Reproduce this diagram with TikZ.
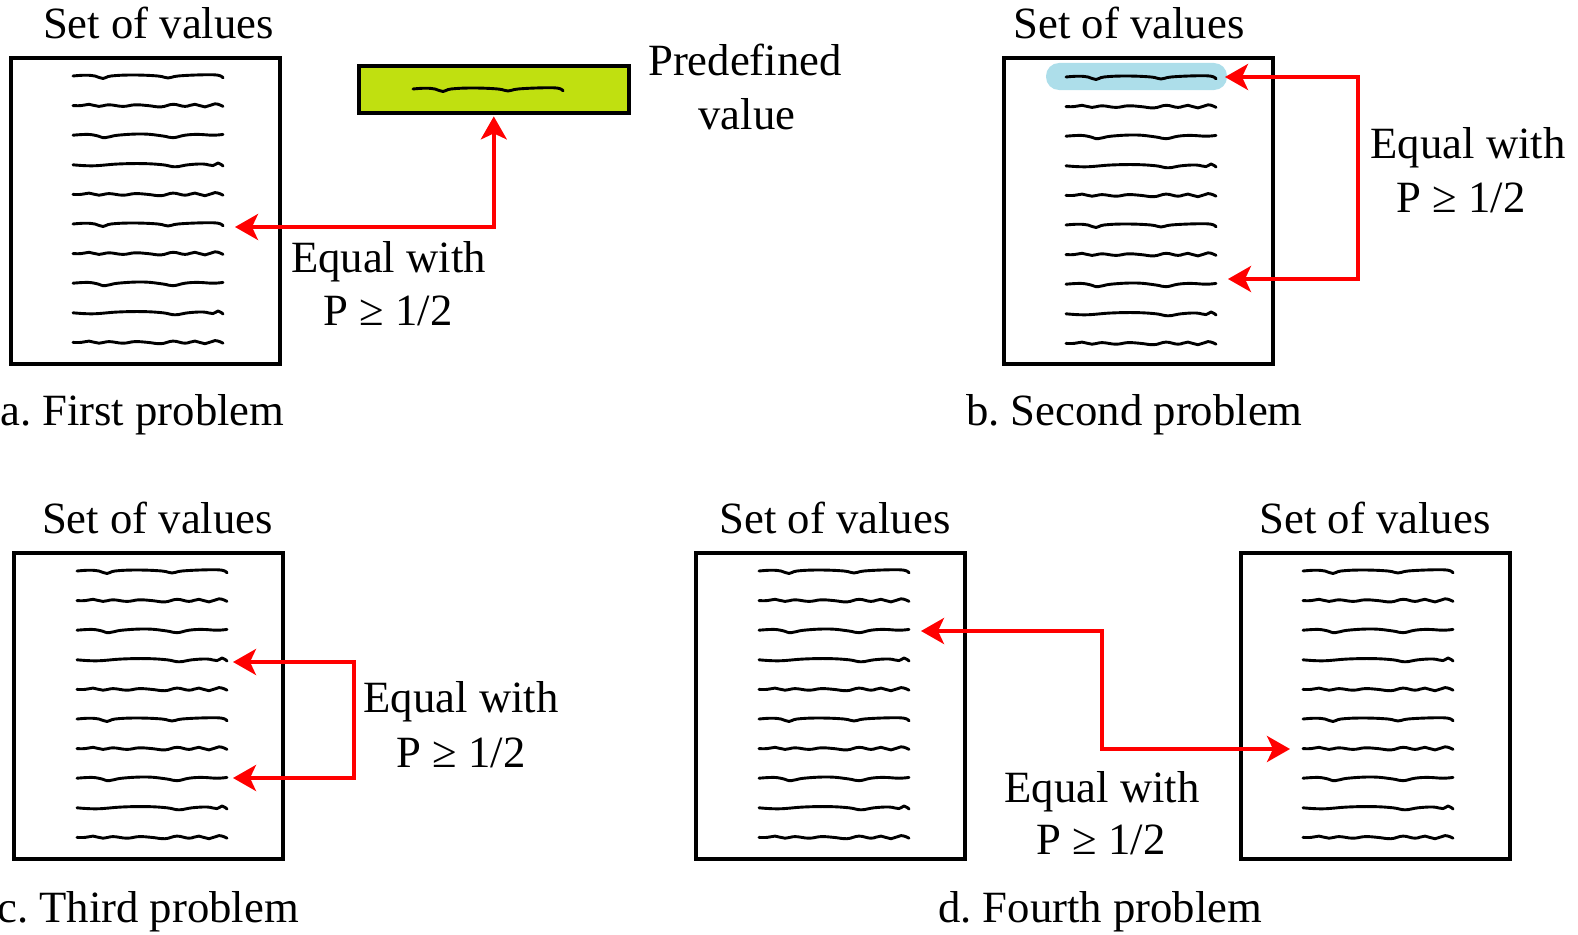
\documentclass[tikz,border=0pt]{standalone}
\usepackage{fontspec}
\setmainfont{Liberation Serif}
\usetikzlibrary{arrows.meta}

\definecolor{limefill}{RGB}{192,224,16}
\definecolor{hilite}{RGB}{173,222,234}
\definecolor{linkred}{RGB}{255,0,0}

\tikzset{
  setbox/.style={draw, line width=3.6pt, minimum width=269pt, minimum height=306pt,
    inner sep=0pt, anchor=north west},
  ink/.style={line width=2.9pt, line cap=round, line join=round},
  link/.style={draw=linkred, line width=3.6pt,
    {Stealth[length=23pt,width=26pt,inset=6pt]}-{Stealth[length=23pt,width=26pt,inset=6pt]}},
  lbl/.style={font=\fontsize{44.7}{53}\selectfont\frenchspacing, inner sep=0pt, anchor=base},
  captext/.style={font=\fontsize{44.7}{53}\selectfont\frenchspacing, inner sep=0pt, anchor=base west},
  squigA/.pic={\draw[ink] plot[smooth,tension=0.7] coordinates
    {(0,0) (12,-0.8) (22,0) (30,2.5) (38,0) (60,-1) (85,0) (95,2) (105,0) (130,-1.2) (145,-0.8) (150,1.8)};},
  squigB/.pic={\draw[ink] plot[smooth,tension=0.7] coordinates
    {(0,0) (8,0) (16,-1.3) (26,0.8) (36,-0.8) (50,0.8) (62,-0.8) (75,0) (88,1.3) (100,-1.3) (112,0.8) (122,-1.3) (132,1.3) (142,-1.8) (150,0.8)};},
  squigC/.pic={\draw[ink] plot[smooth,tension=0.7] coordinates
    {(0,0) (15,-0.8) (25,0.8) (32,2.5) (45,0) (70,-1.2) (90,0.8) (100,2.5) (112,0) (125,-0.8) (140,0) (150,-0.8)};},
  squigD/.pic={\draw[ink] plot[smooth,tension=0.7] coordinates
    {(0,0) (20,1) (45,-0.8) (70,-1.2) (90,0) (102,2) (115,0) (130,-0.8) (140,0.8) (145,-1.8) (150,1.2)};},
}

% ten handwritten value lines, starting at (x, y of the first line)
\newcommand\valuelines[2]{%
  \pic at (#1,#2) {squigA};
  \pic at (#1,#2+29.6) {squigB};
  \pic at (#1,#2+59.2) {squigC};
  \pic at (#1,#2+88.8) {squigD};
  \pic at (#1,#2+118.4) {squigB};
  \pic at (#1,#2+148) {squigA};
  \pic at (#1,#2+177.6) {squigB};
  \pic at (#1,#2+207.2) {squigC};
  \pic at (#1,#2+236.8) {squigD};
  \pic at (#1,#2+266.4) {squigB};
}

\begin{document}
\begin{tikzpicture}[x=1pt, y=-1pt]
\useasboundingbox (0,0) rectangle (1578,934);

% ---------- a. First problem ----------
\node[lbl] (ta) at (158.5,38) {Set of values};
\node[setbox] (A) at (9,56) {};
\valuelines{73}{76}
\node[draw, line width=3.6pt, fill=limefill, minimum width=270pt, minimum height=47pt,
  inner sep=0pt, anchor=north west] (G) at (357,64) {};
\pic at (413,89) {squigA};
\node[lbl] (pa1) at (745,75.5) {Predefined};
\node[lbl] (pa2) at (747,129) {value};
\coordinate (a6) at (235,227);
\draw[link] ([yshift=-1.8pt]G.south) |- (a6);
\node[lbl] (ea1) at (388.5,272) {Equal with};
\node[lbl] (ea2) at (388,325) {P ≥ 1/2};
\node[captext] (ca) at (0,425) {a. First problem};

% ---------- b. Second problem ----------
\node[lbl] (tb) at (1129,38) {Set of values};
\node[setbox] (B) at (1002,56) {};
\node[fill=hilite, rounded corners=13pt, minimum width=181pt, minimum height=27pt,
  inner sep=0pt] (hl) at (1136.5,76.5) {};
\valuelines{1066}{77}
\coordinate (b1) at (1225,77);
\coordinate (b8) at (1228,279);
\draw[link] (b1) -- ++(133,0) |- (b8);
\node[lbl] (eb1) at (1468,158) {Equal with};
\node[lbl] (eb2) at (1461,212) {P ≥ 1/2};
\node[captext] (cb) at (966,425) {b. Second problem};

% ---------- c. Third problem ----------
\node[lbl] (tc) at (157.5,533) {Set of values};
\node[setbox] (C) at (12,551) {};
\valuelines{77}{571}
\coordinate (c4) at (233,662);
\coordinate (c8) at (233,778);
\draw[link] (c4) -- ++(121,0) |- (c8);
\node[lbl] (ec1) at (461,712.5) {Equal with};
\node[lbl] (ec2) at (461,767) {P ≥ 1/2};
\node[captext] (cc) at (-3,922) {c. Third problem};

% ---------- d. Fourth problem ----------
\node[lbl] (td1) at (835,533) {Set of values};
\node[setbox] (D1) at (694,551) {};
\valuelines{759}{571}
\node[lbl] (td2) at (1375,533) {Set of values};
\node[setbox] (D2) at (1239,551) {};
\valuelines{1303}{571}
\coordinate (d3) at (921,631);
\coordinate (d7) at (1290,749);
\draw[link] (d3) -- ++(181,0) |- (d7);
\node[lbl] (ed1) at (1102,802) {Equal with};
\node[lbl] (ed2) at (1101,854) {P ≥ 1/2};
\node[captext] (cd) at (938,922) {d. Fourth problem};
\end{tikzpicture}
\end{document}
